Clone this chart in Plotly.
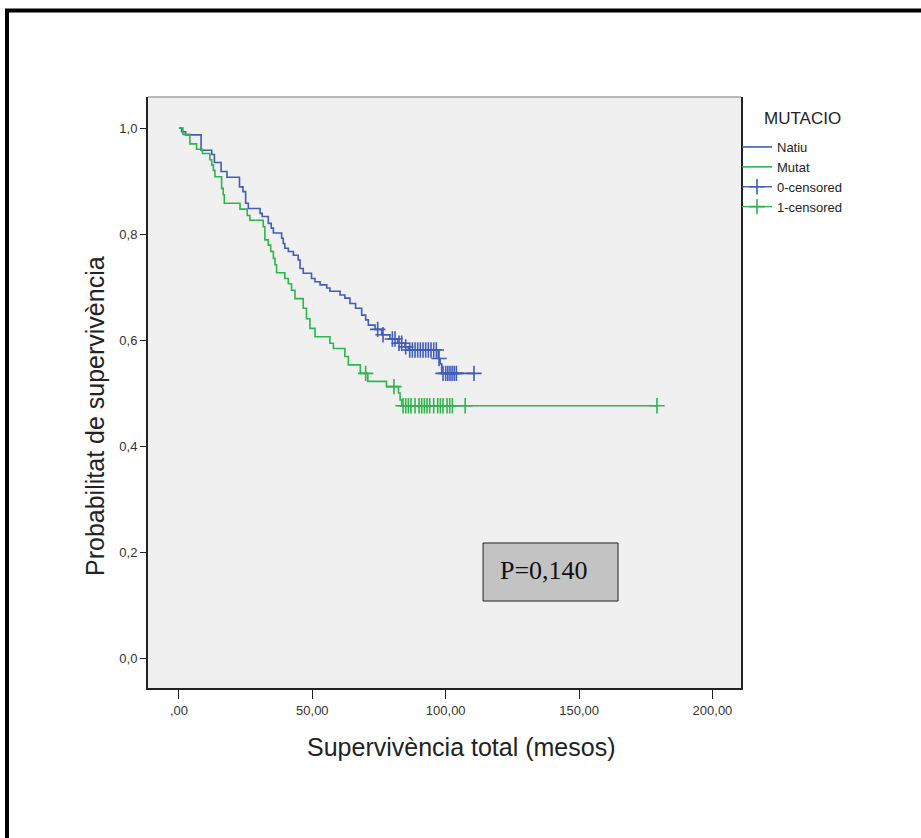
import numpy as np
import plotly.graph_objects as go

# Kaplan-Meier steps: event times (months) and survival after each event
natiu_times = [0, 1.0, 2.5, 8.3, 12.3, 13.3, 15.8, 18.0, 22.7, 24.0, 25.0, 26.0, 30.4, 31.2,
               33.5, 34.6, 35.4, 38.5, 39.1, 39.7, 41.0, 42.9, 44.7, 45.4, 46.6, 49.7, 51.0,
               52.9, 55.4, 56.6, 60.4, 62.2, 64.1, 66.2, 68.5, 70.0, 71.0, 73.5, 76.0, 79.1,
               82.0, 84.7, 86.0, 97.2, 97.9, 98.5]
natiu_surv = [1.0, 0.993, 0.987, 0.958, 0.950, 0.935, 0.918, 0.907, 0.889, 0.880, 0.858, 0.848,
              0.839, 0.833, 0.820, 0.811, 0.802, 0.792, 0.782, 0.773, 0.767, 0.760, 0.751, 0.735,
              0.726, 0.716, 0.710, 0.704, 0.698, 0.692, 0.685, 0.679, 0.669, 0.660, 0.647, 0.638,
              0.628, 0.620, 0.610, 0.602, 0.594, 0.587, 0.581, 0.565, 0.555, 0.537]
natiu_last = 110.6
natiu_censored = [74.5, 76.5, 80.0, 81.0, 82.5, 83.5, 85.0, 86.5, 87.5, 88.5, 89.5, 90.5, 91.5,
                  92.5, 93.5, 94.5, 95.5, 96.5, 97.5, 99.0, 100.0, 100.8, 101.6, 102.4, 103.2,
                  104.0, 110.6]

mutat_times = [0, 1.5, 4.1, 6.6, 8.8, 11.6, 12.3, 12.9, 13.5, 16.0, 16.6, 17.0, 22.9, 25.6, 26.6,
               31.6, 32.2, 33.5, 34.4, 35.4, 36.0, 36.6, 39.7, 41.0, 42.2, 43.5, 46.6, 47.8, 49.1,
               51.0, 56.6, 57.9, 62.2, 63.5, 68.0, 70.8, 77.8, 82.3, 82.9, 83.5]
mutat_surv = [1.0, 0.988, 0.970, 0.960, 0.952, 0.940, 0.930, 0.920, 0.908, 0.886, 0.874, 0.858,
              0.847, 0.835, 0.826, 0.814, 0.789, 0.779, 0.767, 0.754, 0.742, 0.727, 0.716, 0.706,
              0.694, 0.678, 0.660, 0.640, 0.622, 0.606, 0.594, 0.584, 0.569, 0.553, 0.537, 0.522,
              0.512, 0.500, 0.487, 0.476]
mutat_last = 179.2
mutat_censored = [70.0, 80.6, 84.0, 85.0, 86.0, 87.0, 88.5, 90.0, 91.0, 92.0, 93.0, 94.0, 95.5,
                  97.0, 98.0, 99.0, 100.5, 101.5, 102.5, 107.3, 179.2]

x_tickvals = [0, 50, 100, 150, 200]
x_ticktext = [",00", "50,00", "100,00", "150,00", "200,00"]
y_tickvals = [0.0, 0.2, 0.4, 0.6, 0.8, 1.0]
y_ticktext = ["0,0", "0,2", "0,4", "0,6", "0,8", "1,0"]

x_title = "Supervivència total (mesos)"
y_title = "Probabilitat de supervivència"
legend_title = "MUTACIO"
p_text = "P=0,140"

BLUE = "#3F5DB9"
GREEN = "#2EB54B"
FONT = "Liberation Sans, Arial, sans-serif"

# plot-area geometry in pixels, used to place the free text
L, R, T, B = 148, 741, 97, 688


def px_x(p):
    return (p - L) / (R - L)


def px_y(p):
    return (B - p) / (B - T)


def surv_at(times, surv, t):
    idx = np.searchsorted(np.asarray(times), t, side="right") - 1
    return float(np.asarray(surv)[idx])


def step_xy(times, surv, last):
    return list(times) + [last], list(surv) + [surv[-1]]


fig = go.Figure()

for name, times, surv, last, color in [
    ("Natiu", natiu_times, natiu_surv, natiu_last, BLUE),
    ("Mutat", mutat_times, mutat_surv, mutat_last, GREEN),
]:
    xs, ys = step_xy(times, surv, last)
    fig.add_trace(go.Scatter(x=xs, y=ys, mode="lines", line=dict(color=color, width=1.6, shape="hv"),
                             name=name, showlegend=True, hoverinfo="skip"))

for name, times, surv, cens, color in [
    ("0-censored", natiu_times, natiu_surv, natiu_censored, BLUE),
    ("1-censored", mutat_times, mutat_surv, mutat_censored, GREEN),
]:
    cy = [surv_at(times, surv, t) for t in cens]
    fig.add_trace(go.Scatter(x=cens, y=cy, mode="markers", name=name, showlegend=False,
                             marker=dict(symbol="cross-thin", size=11, line=dict(color=color, width=1.6))))
    # legend entry: a line crossed by the censor mark
    fig.add_trace(go.Scatter(x=[None], y=[None], mode="lines+markers", name=name,
                             line=dict(color=color, width=1.4),
                             marker=dict(symbol="cross-thin", size=11, line=dict(color=color, width=1.6))))

# p-value box
fig.add_shape(type="rect", xref="x", yref="y", x0=114, x1=164.6, y0=0.1075, y1=0.217,
              fillcolor="#C3C3C3", line=dict(color="#222222", width=1), layer="above")
fig.add_annotation(x=119.5, y=0.166, xref="x", yref="y", text=p_text, showarrow=False,
                   xanchor="left", yanchor="middle",
                   font=dict(family="Liberation Serif, Times New Roman, serif", size=26, color="#111111"))

# legend heading
fig.add_annotation(x=px_x(762), y=px_y(118), xref="paper", yref="paper",
                   text=legend_title, showarrow=False, xanchor="left", yanchor="middle",
                   font=dict(family=FONT, size=17, color="#222222"))

# axis titles
fig.add_annotation(x=px_x(461), y=px_y(747), xref="paper", yref="paper",
                   text=x_title, showarrow=False, xanchor="center", yanchor="middle",
                   font=dict(family=FONT, size=25, color="#222222"))
fig.add_annotation(x=px_x(95), y=px_y(416), xref="paper", yref="paper",
                   text=y_title, showarrow=False, xanchor="center", yanchor="middle", textangle=-90,
                   font=dict(family=FONT, size=25, color="#222222"))

# top edge of the plot frame
fig.add_shape(type="line", xref="paper", yref="paper", x0=0, x1=1, y0=1, y1=1,
              line=dict(color="#777777", width=1))

# outer page frame
fig.add_shape(type="rect", xref="paper", yref="paper", x0=px_x(7), x1=px_x(960), y0=px_y(10.5),
              y1=px_y(880), line=dict(color="#000000", width=4), fillcolor="rgba(0,0,0,0)")

fig.update_layout(
    width=921, height=838,
    margin=dict(l=L, r=921 - R, t=T, b=838 - B),
    paper_bgcolor="white",
    plot_bgcolor="#F0F0F0",
    font=dict(family=FONT, color="#222222"),
    showlegend=True,
    legend=dict(
        x=px_x(737), y=px_y(132), xanchor="left", yanchor="top",
        font=dict(size=13, color="#222222", family=FONT),
        bgcolor="rgba(0,0,0,0)", itemwidth=30, tracegroupgap=0,
    ),
    xaxis=dict(
        range=[-11.6, 210.7], tickvals=x_tickvals, ticktext=x_ticktext,
        showgrid=False, zeroline=False, showline=True, linecolor="#222222", linewidth=2,
        ticks="outside", ticklen=9, tickcolor="#222222", tickwidth=1,
        tickfont=dict(size=13, color="#333333"),
    ),
    yaxis=dict(
        range=[-0.0566, 1.0585], tickvals=y_tickvals, ticktext=y_ticktext,
        showgrid=False, zeroline=False, showline=True, linecolor="#222222", linewidth=2, mirror=True,
        ticks="outside", ticklen=6, tickcolor="#222222", tickwidth=1,
        tickfont=dict(size=13, color="#333333"),
    ),
)

fig.write_html("out.html")
